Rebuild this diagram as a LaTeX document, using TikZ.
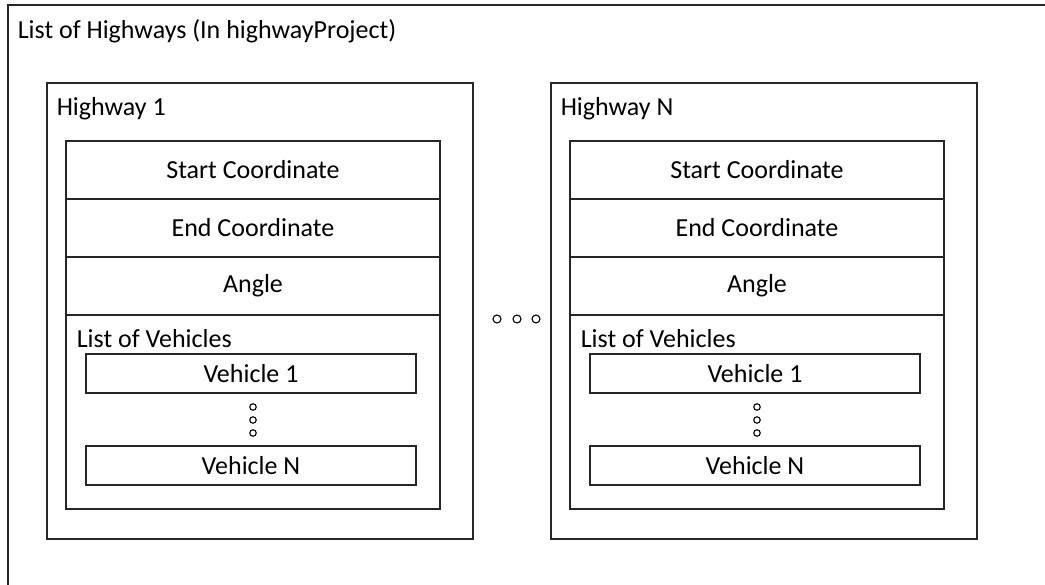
\documentclass[tikz,border=0pt]{standalone}
\usepackage{fontspec}
\setmainfont{Carlito}
\begin{document}
\begin{tikzpicture}[x=1pt,y=-1pt,line width=1.5pt,
  frame/.style={draw=black!85, rectangle, inner sep=0pt},
  txt/.style={font=\fontsize{26}{30}\selectfont},
  lbl/.style={anchor=west, inner sep=0pt, font=\fontsize{26}{30}\selectfont},
  dot/.style={draw=black, circle, inner sep=0pt, minimum size=6.5pt, line width=1.1pt}]
\useasboundingbox (0,0) rectangle (1045,585);
% outer frame (open at right and bottom)
\coordinate (ob) at (8,590);
\coordinate (otl) at (8,5);
\coordinate (otr) at (1050,5);
\draw[black!85] (ob) -- (otl) -- (otr);
\node[lbl] (title) at (17,31) {List of Highways (In highwayProject)};
\foreach \dx/\n in {0/1,504/N}{
  \node[frame, minimum width=426pt, minimum height=456pt] (hw\n) at (260+\dx,311) {};
  \node[lbl] (hwl\n) at (56+\dx,109) {Highway \n};
  \node[frame, txt, minimum width=374pt, minimum height=58pt] (sc\n) at (253+\dx,170) {Start Coordinate};
  \node[frame, txt, minimum width=374pt, minimum height=58pt] (ec\n) at (253+\dx,228) {End Coordinate};
  \node[frame, txt, minimum width=374pt, minimum height=58pt] (an\n) at (253+\dx,286) {Angle};
  \node[frame, minimum width=374pt, minimum height=194pt] (lv\n) at (253+\dx,412) {};
  \node[lbl] (lvl\n) at (76+\dx,339) {List of Vehicles};
  \node[frame, txt, minimum width=330pt, minimum height=39pt] (va\n) at (251+\dx,373.5) {Vehicle 1};
  \node[frame, txt, minimum width=330pt, minimum height=39pt] (vb\n) at (251+\dx,465.5) {Vehicle N};
  \node[dot] (d1\n) at (253+\dx,407) {};
  \node[dot] (d2\n) at (253+\dx,420) {};
  \node[dot] (d3\n) at (253+\dx,433) {};
}
\node[dot, minimum size=8pt] (m1) at (497,319) {};
\node[dot, minimum size=8pt] (m2) at (517,319) {};
\node[dot, minimum size=8pt] (m3) at (536,319) {};
\end{tikzpicture}
\end{document}
